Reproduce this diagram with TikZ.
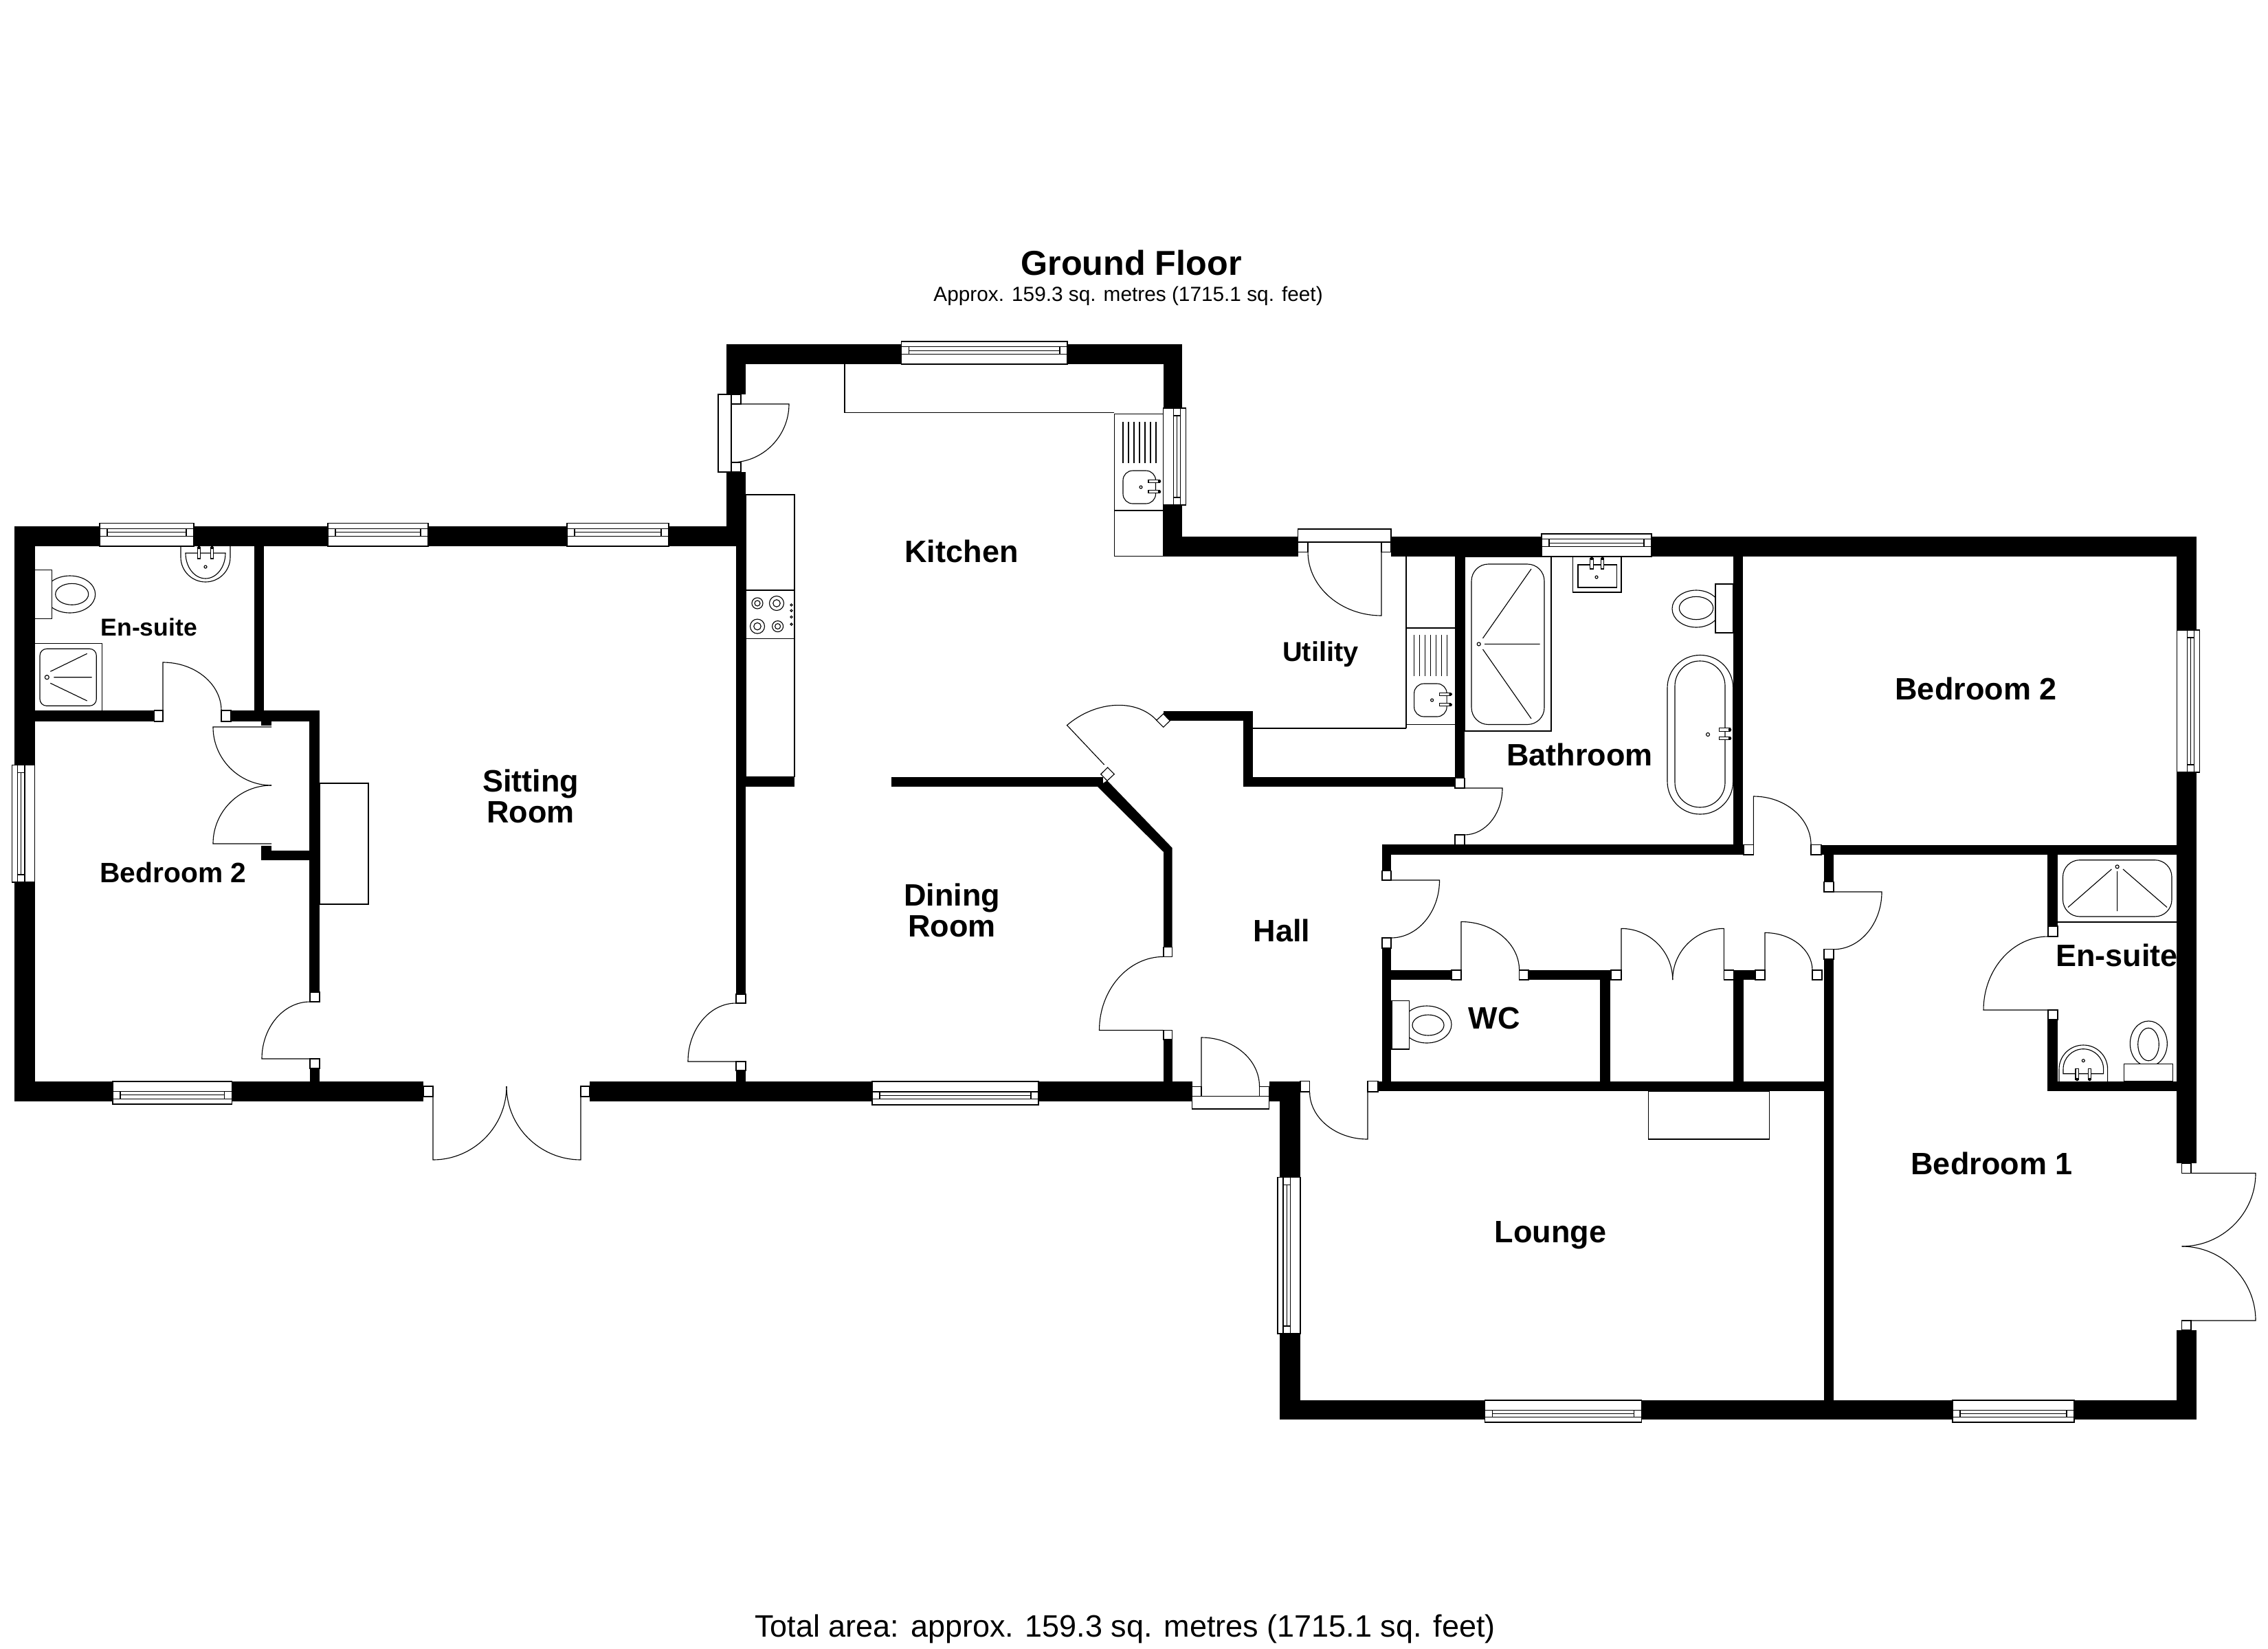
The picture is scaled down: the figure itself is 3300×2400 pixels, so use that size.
\documentclass[tikz,border=0pt]{standalone}
\usepackage{fontspec}
\setmainfont{Liberation Sans}
\usetikzlibrary{calc}

\tikzset{
  wall/.style={fill=black},
  fixture/.style={draw=black, line width=0.32pt},
  jamb/.style={draw=black, fill=white, line width=0.32pt},
  doorline/.style={draw=black, line width=0.32pt},
  roomlabel/.style={font=\fontsize{12.8}{13}\selectfont\bfseries, align=center, inner sep=0pt},
  midlabel/.style={font=\fontsize{11.6}{13}\selectfont\bfseries, inner sep=0pt},
  smalllabel/.style={font=\fontsize{10.1}{11}\selectfont\bfseries, inner sep=0pt},
  titlelabel/.style={font=\fontsize{14.3}{15}\selectfont\bfseries, inner sep=0pt},
  arealabel/.style={font=\fontsize{8.47}{10}\selectfont, inner sep=0pt},
  totallabel/.style={font=\fontsize{12.8}{14}\selectfont, inner sep=0pt},
}

\newcommand{\hwin}[4]{
  \pgfmathsetmacro{\wina}{#3+0.44*(#4-#3)}
  \pgfmathsetmacro{\winb}{#3+0.76*(#4-#3)}
  \pgfmathsetmacro{\winc}{#3+0.60*(#4-#3)}
  \filldraw[jamb] (#1,#3) rectangle (#2,#4);
  \draw[fixture] (#1,\wina) -- (#2,\wina);
  \draw[fixture] (#1,\winb) -- (#2,\winb);
  \draw[fixture] (#1+11,\wina) -- (#1+11,\winb);
  \draw[fixture] (#2-11,\wina) -- (#2-11,\winb);
  \draw[fixture] (#1+11,\winc) -- (#2-11,\winc);
}
\newcommand{\vwin}[4]{
  \pgfmathsetmacro{\wina}{#3+0.44*(#4-#3)}
  \pgfmathsetmacro{\winb}{#3+0.76*(#4-#3)}
  \pgfmathsetmacro{\winc}{#3+0.60*(#4-#3)}
  \filldraw[jamb] (#3,#1) rectangle (#4,#2);
  \draw[fixture] (\wina,#1) -- (\wina,#2);
  \draw[fixture] (\winb,#1) -- (\winb,#2);
  \draw[fixture] (\wina,#1+11) -- (\winb,#1+11);
  \draw[fixture] (\wina,#2-11) -- (\winb,#2-11);
  \draw[fixture] (\winc,#1+11) -- (\winc,#2-11);
}
\newcommand{\vtap}[3]{
  \filldraw[jamb] (#1-2.2,#2) rectangle (#1+2.2,#3);
  \fill (#1,#3) circle [radius=2.3];
}
\newcommand{\htap}[3]{
  \filldraw[jamb] (#1,#3-2.2) rectangle (#2,#3+2.2);
  \fill (#2,#3) circle [radius=2.3];
}

\begin{document}
\begin{tikzpicture}[x=0.01cm, y=-0.01cm]
  \useasboundingbox (0,0) rectangle (3300,2400);

  \foreach \xa/\ya/\xb/\yb in {
    21/766/1085/795, 21/766/50.5/1603, 21/1574/616/1603, 370/795/384/1034,
    50.5/1034/224.5/1050, 336/1034/465/1050, 380/1050/395/1056, 380/1231/395/1252,
    380/1238/450/1252, 450/1050/465/1444, 451/1555/465/1574, 858/1574/1734.6/1603,
    1057/501/1720/530, 1057/501/1085/574, 1057/687/1085/795, 1071/795/1085/1447,
    1071/1558/1085/1574, 1692.6/501/1720/594, 1692.6/735/1720/810, 1692.6/781/1888.5/810,
    2024/781/3196/810, 3167/781/3196/1693, 3167/1936/3196/2066,
    1085/1130.5/1156/1145, 1297/1130.5/1605/1145, 1693/1513/1705.6/1574,
    1692.7/1034.5/1823.4/1049, 1809/1034.5/1823.4/1145, 1809/1130.5/2117/1145, 2117/810/2131/1132.5,
    2011/1229.4/2537/1244, 2522/810/2535.6/1230, 2650/1229.6/3167.5/1244, 2654/1244/2668/1283.5,
    2654/1396/2668/2040, 2011/1244/2024/1267.5, 2011/1380/2024/1574,
    2024/1412/2112/1426, 2224/1412/2344/1426, 2522.4/1412/2554/1426,
    2328.4/1426/2343.3/1574, 2522.4/1426/2536.5/1574, 2005/1574/2668/1588,
    1846.6/1574/1892/1603, 1862/1574/1892/2066, 1862/2037.7/3196/2066,
    2979/1244/2994/1348, 2979/1484/2994/1588, 2979/1574/3167/1588} {
    \fill[wall] (\xa,\ya) rectangle (\xb,\yb);
  }
  \fill[wall] (1611,1136) -- (1705.6,1234) -- (1705.6,1378.6) -- (1693,1378.6) -- (1693,1240) -- (1597,1145) -- cycle;

  \foreach \ax/\ay/\bx/\by/\cx/\cy in {
    237/1034/237/964/322/1034, 395/1058/310/1058/395/1143, 395/1228/310/1228/395/1143,
    451/1541/381/1541/451/1458, 1071/1545/1001/1545/1071/1460, 630/1581/630/1688/737/1581,
    845/1581/845/1688/737/1581, 1064/588/1148/588/1064/673, 2010/803/2010/896/1903/803,
    1606.7/1113/1552.5/1055.5/1682.7/1048, 2131/1147/2186/1147/2131/1215,
    1693/1499.5/1599.5/1499.5/1693/1392.4, 1748/1581/1748/1510/1832.5/1581,
    1990/1589/1990/1658/1905.6/1589, 2551.4/1229.6/2551.4/1159/2635/1229.6,
    2668/1298/2738/1298/2668/1381.7, 2024/1281/2094.5/1281/2024/1365,
    2126/1412/2126/1341.5/2210.6/1412, 2359/1426/2359/1351.4/2433.7/1426,
    2508.3/1426/2508.3/1351.4/2433.7/1426, 2568/1412/2568/1357.5/2637/1412,
    2980/1470/2886/1470/2980/1363, 3174.5/1707.5/3282/1707.5/3174.5/1814,
    3174.5/1922/3282/1922/3174.5/1814} {
    \draw[doorline] (\ax,\ay) -- (\bx,\by)
      .. controls ($(\bx,\by)+0.55*(\cx,\cy)-0.55*(\ax,\ay)$) and ($(\cx,\cy)+0.55*(\bx,\by)-0.55*(\ax,\ay)$) .. (\cx,\cy);
  }
  \draw[doorline] (1064,588) -- (1064,673);

  \foreach \xa/\ya/\xb/\yb in {
    224.5/1034/237/1050, 322/1034/336/1050, 451/1444/465/1458, 451/1541/465/1555,
    616/1581/630/1596, 845/1581/858/1596, 1071/1447/1085/1460, 1071/1545/1085/1558,
    1064/574/1078/588, 1064/673/1078/687, 1888.5/789/1903/803.5, 2010/789/2024/803.5,
    2117/1132.5/2131/1147, 2117/1215/2131/1229.4, 1693/1378.6/1705.6/1392.4, 1693/1499.5/1705.6/1513,
    1734.6/1581.4/1748/1595.6, 1832.5/1581.4/1846.6/1595.6, 1892/1573.5/1905.6/1589, 1990/1573.5/2005/1589,
    2537/1229.6/2551.4/1244, 2635/1229.6/2650/1244, 2654/1283.5/2668/1298, 2654/1381.7/2668/1396,
    2011/1267.5/2024/1281, 2011/1365/2024/1380, 2112/1412/2126/1426, 2210.6/1412/2224/1426,
    2344/1412/2359/1426, 2508.3/1412/2522.4/1426, 2554/1412/2568/1426, 2637/1412/2651/1426,
    2980/1348/2994/1363, 2980/1470/2994/1484, 3174.5/1693/3188/1707.5, 3174.5/1922/3188/1936,
    1045/574/1064/687, 1734.6/1595.6/1846.6/1614, 1888.5/770/2024/789} {
    \filldraw[jamb] (\xa,\ya) rectangle (\xb,\yb);
  }
  \filldraw[jamb] (1692.7,1039) -- (1702.3,1049) -- (1692.7,1058.3) -- (1682.7,1048.3) -- cycle;
  \filldraw[jamb] (1611.7,1117) -- (1621.3,1126.7) -- (1611,1136.3) -- (1601.7,1126.7) -- cycle;

  \hwin{145}{282}{795}{761.5}
  \hwin{477}{623}{795}{761.5}
  \hwin{825}{973}{795}{761.5}
  \hwin{1311.5}{1553}{530}{497}
  \hwin{2243}{2403}{810}{777}
  \hwin{164}{337.5}{1574}{1607}
  \hwin{1269}{1511}{1574}{1608}
  \hwin{2160.5}{2388.5}{2038}{2070}
  \hwin{2841}{3018}{2038}{2070}
  \vwin{1113.5}{1284}{50.5}{17.5}
  \vwin{594}{735}{1692.6}{1725.5}
  \vwin{917}{1124}{3167.5}{3200.6}
  \vwin{1713.5}{1941}{1892}{1859}

  % chimney breasts and worktops
  \draw[fixture] (465,1140) rectangle (536,1316);
  \draw[fixture] (2398.4,1588) rectangle (2574.4,1658);
  \draw[fixture] (1085,720) rectangle (1156,1130.5);
  \draw[fixture] (1085,859) rectangle (1156,929.5);
  \draw[fixture] (1229,530) -- (1229,600.4) -- (1621.4,600.4);
  \draw[fixture] (1621.4,602.5) rectangle (1692.6,743);
  \draw[fixture] (1621.4,743) rectangle (1692.6,809.6);
  \draw[fixture] (2046,809.6) -- (2046,1060) (1823.4,1060) -- (2046,1060);
  \draw[fixture] (2046,914) -- (2117,914) (2046,1054.5) -- (2117,1054.5);

  % hob
  \foreach \hx/\hy/\hr in {1102/878/8, 1130/878/10.5, 1102/911.6/10.5, 1131.6/911.6/8} {
    \draw[fixture] (\hx,\hy) circle [radius=\hr];
    \draw[fixture] (\hx,\hy) circle [radius=\hr*0.5];
  }
  \foreach \hy in {880.5, 888.7, 898, 908.6} {
    \draw[fixture] (1151.5,\hy) circle [radius=1.6];
  }

  % sinks
  \foreach \sx/\sy in {1634/614, 2057.6/924} {
    \foreach \i in {0, 1, ..., 6} {
      \draw[fixture] (\sx+\i*8,\sy) -- (\sx+\i*8,\sy+60);
    }
    \draw[fixture, rounded corners=4pt] (\sx,\sy+71) rectangle (\sx+47.5,\sy+119);
    \draw[fixture] (\sx+26,\sy+95) circle [radius=2];
    \htap{\sx+37}{\sx+53}{\sy+86.4}
    \htap{\sx+37}{\sx+53}{\sy+101.7}
  }

  % en-suite, bedroom 2 side
  \draw[fixture] (101.7,865) ellipse [x radius=37, y radius=27];
  \filldraw[jamb] (50.5,829.7) rectangle (75.3,900.3);
  \draw[fixture] (104.7,864.8) ellipse [x radius=24, y radius=15.5];
  \draw[fixture] (263,795) -- (263,811) arc [start angle=180, end angle=0, radius=36] -- (335,795);
  \draw[fixture] (270,805) -- (328,805) arc [start angle=0, end angle=180, x radius=29, y radius=37] -- cycle;
  \draw[fixture] (299,825) circle [radius=2];
  \vtap{289.5}{813}{797}
  \vtap{308.5}{813}{797}
  \draw[fixture] (50.5,936.3) -- (148.7,936.3) -- (148.7,1035);
  \draw[fixture, rounded corners=2.8pt] (58,944.3) rectangle (140.3,1027.3);
  \draw[fixture] (68.3,985.7) circle [radius=3];
  \draw[fixture] (73.3,977.3) -- (126.7,951.3) (78.3,985.7) -- (133.7,985.7) (73.3,994.3) -- (126.7,1020);

  % bathroom
  \draw[fixture] (2131,810) rectangle (2257,1064);
  \draw[fixture, rounded corners=7pt] (2141,821) rectangle (2247,1054.5);
  \draw[fixture] (2151.7,937.4) circle [radius=2.5];
  \draw[fixture] (2160,937.4) -- (2240.5,937.4) (2157.5,929) -- (2228,828) (2157.5,945) -- (2228,1046);
  \draw[fixture] (2288.6,810) rectangle (2359,862);
  \draw[fixture] (2296,822) rectangle (2352.4,855);
  \draw[fixture] (2323,840) circle [radius=2];
  \vtap{2316}{828}{813}
  \vtap{2331.7}{828}{813}
  \draw[fixture] (2468,886) ellipse [x radius=35, y radius=27];
  \filldraw[jamb] (2496,850) rectangle (2521.6,921);
  \draw[fixture] (2468,885) ellipse [x radius=24.7, y radius=16.7];
  \draw[fixture, rounded corners=13.5pt] (2426,953.5) rectangle (2521.6,1185);
  \draw[fixture, rounded corners=10.3pt] (2437,962) rectangle (2510,1175);
  \draw[fixture] (2485,1069) circle [radius=2.5];
  \htap{2501.7}{2517}{1062}
  \htap{2501.7}{2517}{1074.6}

  % wc
  \draw[fixture] (2076,1491) ellipse [x radius=36, y radius=27];
  \filldraw[jamb] (2025,1456.3) rectangle (2050.6,1527);
  \draw[fixture] (2078,1492) ellipse [x radius=23, y radius=15];

  % en-suite, bedroom 1 side
  \draw[fixture] (2994,1342) -- (3167,1342);
  \draw[fixture, rounded corners=7pt] (3001.5,1251.7) rectangle (3160,1334);
  \draw[fixture] (3080.6,1261.4) circle [radius=2.5];
  \draw[fixture] (3080.6,1268) -- (3080.6,1326) (3072.4,1265) -- (3009,1320.5) (3089,1265) -- (3153,1320.5);
  \draw[fixture] (2996,1574) -- (2996,1556) arc [start angle=180, end angle=360, x radius=35.3, y radius=35] -- (3066.6,1574);
  \draw[fixture] (3002,1562.7) -- (3002,1556) arc [start angle=180, end angle=360, x radius=29.3, y radius=29.3] -- (3060.6,1562.7) -- cycle;
  \draw[fixture] (3031.3,1543.7) circle [radius=2];
  \vtap{3022.2}{1555.7}{1571}
  \vtap{3040.5}{1555.7}{1571}
  \draw[fixture] (3126.3,1519) ellipse [x radius=27, y radius=33];
  \filldraw[jamb] (3090.7,1574) rectangle (3161.3,1548.3);
  \draw[fixture] (3126,1520) ellipse [x radius=15.3, y radius=23.8];

  \node[titlelabel] (groundfloor) at (1646,383) {Ground Floor};
  \node[arealabel] (floorarea) at (1641.6,431) {Approx. 159.3 sq. metres (1715.1 sq. feet)};
  \node[totallabel] (totalarea) at (1637,2371) {Total area: approx. 159.3 sq. metres (1715.1 sq. feet)};
  \node[roomlabel] (kitchen) at (1399,802.4) {Kitchen};
  \node[midlabel, font=\fontsize{11.3}{13}\selectfont\bfseries] (utility) at (1921.4,952) {Utility};
  \node[roomlabel] (bedtwor) at (2875,1002.5) {Bedroom 2};
  \node[roomlabel] (bathroom) at (2298.5,1098) {Bathroom};
  \node[roomlabel] (wc) at (2174,1482) {WC};
  \node[roomlabel] (ensuiter) at (3080,1390) {En-suite};
  \node[roomlabel] (bedone) at (2898,1693) {Bedroom 1};
  \node[roomlabel] (lounge) at (2256,1798) {Lounge};
  \node[roomlabel] (hall) at (1865,1354) {Hall};
  \node[roomlabel] (dining) at (1385,1325) {Dining\\Room};
  \node[roomlabel] (sitting) at (772,1159) {Sitting\\Room};
  \node[smalllabel] (ensuitel) at (216.7,913) {En-suite};
  \node[midlabel] (bedtwol) at (252,1270) {Bedroom 2};
\end{tikzpicture}
\end{document}
